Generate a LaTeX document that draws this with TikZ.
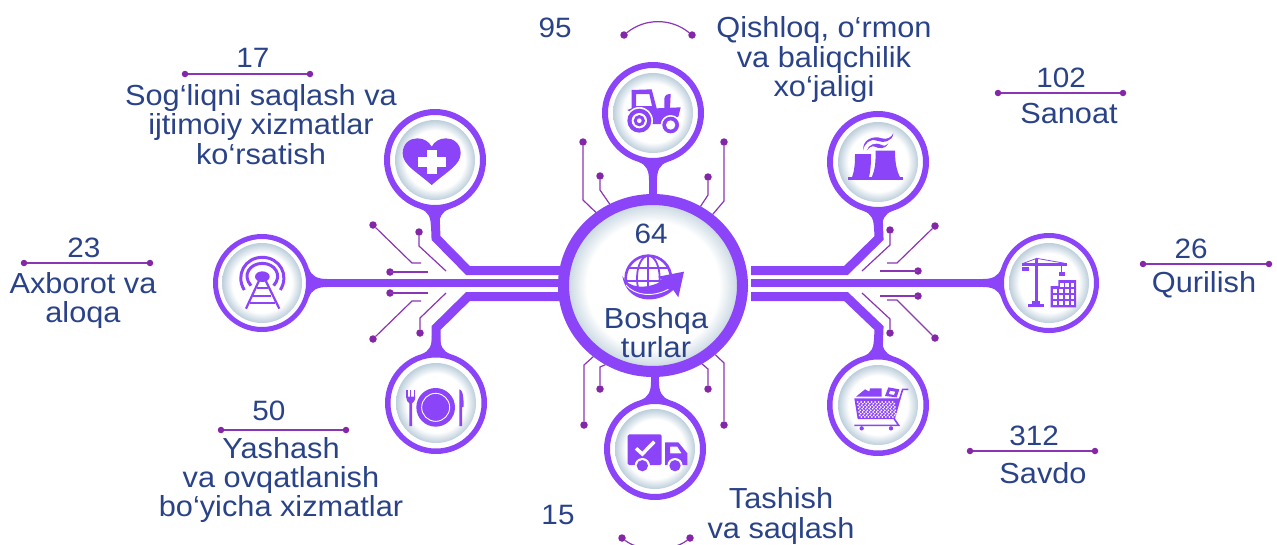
\documentclass[tikz,border=0pt]{standalone}
\usepackage{fontspec}
\setmainfont[FakeStretch=1.06]{Liberation Sans}
\usetikzlibrary{shapes.geometric}
\definecolor{ringcol}{HTML}{8B44F7}
\definecolor{tracecol}{HTML}{8A35B5}
\definecolor{dotcol}{HTML}{8426A8}
\definecolor{textcol}{HTML}{2A4388}
\pgfdeclareradialshading{discshade}{\pgfpointorigin}{rgb(0bp)=(1,1,1);rgb(18.5bp)=(1,1,1);rgb(25bp)=(0.74,0.81,0.86);rgb(50bp)=(0.74,0.81,0.86)}
\tikzset{
    ringnode/.style={circle, draw=ringcol, fill=white, inner sep=0pt},
    discnode/.style={circle, shading=discshade, minimum size=80pt, inner sep=0pt},
    bar/.style={draw=ringcol, line width=9pt, line join=miter},
    trace/.style={draw=tracecol, line width=1.2pt},
    dotnode/.style={circle, fill=dotcol, minimum size=7.5pt, inner sep=0pt},
    lbl/.style={text=textcol, font=\fontsize{29}{29.2}\selectfont, align=center, inner sep=0pt},
    num/.style={text=textcol, font=\fontsize{28}{30}\selectfont, inner sep=0pt},
    flare/.pic={\fill[ringcol] (-14,-2) .. controls (-7,1) and (-4,6) .. (-4,16) -- (4,16) .. controls (4,6) and (7,1) .. (14,-2) -- cycle;}
}
\begin{document}
\begin{tikzpicture}[x=1pt,y=-1pt]
    \useasboundingbox (0,0) rectangle (1277,544);
    % Rings and discs
    \foreach \nm/\cx/\cy/\rad/\lw in {tractor/653/113/51/6, heart/435/160/51/6, factory/878/162/51/6, antenna/262/283/49/5, crane/1049/283/50/5, plate/436/403/51/5.5, cart/878/405/51/5.5, truck/655/449/51/6}{
        \node[ringnode, minimum size=2*\rad-\lw, line width=\lw] (\nm) at (\cx,\cy) {};
        \node[discnode] (\nm disc) at (\cx,\cy) {};
    }
    \node[ellipse, draw=ringcol, line width=11pt, shading=discshade, minimum width=179pt, minimum height=172pt, inner sep=0pt] (hub) at (653,285.5) {};
    % Bars into the hub
    \coordinate (hubleft) at (560,283);
    \coordinate (hubright) at (751,283);
    \coordinate (hubtop) at (653,194);
    \coordinate (hubbottom) at (655,377);
    \draw[bar, line width=8.5pt] (antenna.east) -- (hubleft);
    \draw[bar, line width=8.5pt] (crane.west) -- (hubright);
    \draw[bar] (heart.south) -- (436,238) -- (468,270.5) -- (562,270.5);
    \draw[bar] (plate.north) -- (436,328) -- (468,296.5) -- (562,296.5);
    \draw[bar] (factory.south) -- (879,238) -- (846,270.5) -- (751,270.5);
    \draw[bar] (cart.north) -- (879,328) -- (846,296.5) -- (751,296.5);
    \draw[bar, line width=8pt] (tractor.south) -- (hubtop);
    \draw[bar, line width=8pt] (truck.north) -- (hubbottom);
    \pic at (tractor.south) {flare};
    \pic at (heart.south) {flare};
    \pic at (factory.south) {flare};
    \pic[rotate=180] at (truck.north) {flare};
    \pic[rotate=180] at (plate.north) {flare};
    \pic[rotate=180] at (cart.north) {flare};
    \pic[rotate=90] at (antenna.east) {flare};
    \pic[rotate=-90] at (crane.west) {flare};
    % Thin traces at the hub
    \foreach \nm/\dx/\dy/\by/\ang in {ta/583/142/200/128.5, tb/600/176/190/118.8, tc/708/177/195/59.6, td/724/142/201/50.2, ba/584/425/365/-130.3, bb/600/389/367/-121.8, bc/708/389/369/-58, bd/724/425/363/-48.9}{
        \node[dotnode] (\nm) at (\dx,\dy) {};
        \draw[trace] (\nm) -- (\dx,\by) -- (hub.\ang);
    }
    % Thin traces at the branches
    \foreach \nm/\dx/\dy/\bx/\by/\ex/\ey in {la/373/225/412/263/421/263, lb/419/232/419/246/446/271, lc/390/272/390/272/428/272, ld/390/293/390/293/428/293, le/373/339/412/301/421/301, lf/420/333/420/318/446/293, ra/935/226/897/263/887/263, rb/890/230/890/245/862/271, rc/918/271/918/271/880/271, rd/918/296/918/296/880/296, re/935/338/897/300/887/300, rf/890/333/890/319/862/293}{
        \node[dotnode] (\nm) at (\dx,\dy) {};
        \coordinate (\nm end) at (\ex,\ey);
        \draw[trace] (\nm) -- (\bx,\by) -- (\nm end);
    }
    % Tractor icon
    \begin{scope}[shift={(540,0)},scale=1/3]
        \fill[ringcol, even odd rule] (275,270) -- (335,268) -- (350,325) -- (422,322) -- (415,350) -- (395,358) -- (365,372) -- (335,372) -- (262,330) -- (275,325) -- cycle (288,282) -- (328,282) -- (336,318) -- (288,318) -- cycle;
        \fill[ringcol] (373,325) -- (373,295) .. controls (375,285) and (382,282) .. (392,282) -- (390,325) -- cycle;
        \fill[white] (298,362) circle (41);
        \fill[white] (392,375) circle (30);
        \fill[ringcol] (298,362) circle (36);
        \fill[white] (298,362) circle (23);
        \fill[ringcol] (298,362) circle (17);
        \fill[white] (298,362) circle (7);
        \fill[ringcol] (392,375) circle (25);
        \fill[white] (392,375) circle (14);
    \end{scope}
    % Heart icon
    \begin{scope}[shift={(360,100)},scale=1/3]
        \fill[ringcol] (215,255) .. controls (170,215) and (128,195) .. (128,160) .. controls (128,130) and (150,115) .. (172,115) .. controls (192,115) and (207,125) .. (215,140) .. controls (223,125) and (238,115) .. (258,115) .. controls (280,115) and (302,130) .. (302,160) .. controls (302,195) and (260,215) .. (215,255) -- cycle;
        \fill[white] (200,150) rectangle (230,222);
        \fill[white] (173,172) rectangle (258,200);
    \end{scope}
    % Antenna icon
    \begin{scope}[shift={(200,220)},scale=1/3]
        \fill[ringcol] (187,170) ellipse (22 and 16);
        \draw[ringcol, line width=3pt] (133,210) .. controls (105,165) and (135,112) .. (187,112) .. controls (239,112) and (269,165) .. (241,210);
        \draw[ringcol, line width=3pt] (153,197) .. controls (125,165) and (150,130) .. (187,130) .. controls (224,130) and (249,165) .. (221,197);
        \draw[ringcol, line width=2.2pt] (178,180) -- (138,266) (196,180) -- (238,266);
        \draw[ringcol, line width=2.2pt] (172,205) -- (203,205) (160,228) -- (214,228) (150,250) -- (226,250);
    \end{scope}
    % Plate icon
    \begin{scope}[shift={(200,220)},scale=1/3]
        \fill[ringcol] (707,562) circle (58);
        \draw[white, line width=0.9pt] (707,562) circle (42);
        \draw[ringcol, line width=1.4pt] (621,510) -- (621,535) (632,510) -- (632,535) (644,510) -- (644,535);
        \fill[ringcol] (619,530) -- (646,530) .. controls (646,542) and (640,548) .. (636,550) -- (636,618) -- (628,618) -- (628,550) .. controls (624,548) and (619,542) .. (619,530) -- cycle;
        \fill[ringcol] (778,508) .. controls (786,510) and (791,520) .. (791,560) -- (786,562) -- (786,618) -- (778,618) -- cycle;
    \end{scope}
    % Factory icon
    \begin{scope}[shift={(740,100)},scale=1/3]
        \fill[ringcol] (325,230) rectangle (490,240);
        \fill[ringcol] (345,162) -- (393,162) .. controls (393,190) and (392,210) .. (387,232) -- (336,232) .. controls (344,210) and (345,190) .. (345,162) -- cycle;
        \fill[ringcol] (407,152) -- (465,152) .. controls (465,190) and (470,210) .. (480,232) -- (395,232) .. controls (405,210) and (407,190) .. (407,152) -- cycle;
        \fill[ringcol] (370,152) .. controls (365,120) and (400,105) .. (425,115) .. controls (440,120) and (455,112) .. (460,100) .. controls (458,125) and (430,130) .. (410,122) .. controls (390,115) and (372,130) .. (370,152) -- cycle;
        \fill[ringcol] (380,152) .. controls (385,135) and (405,125) .. (425,135) .. controls (435,140) and (440,135) .. (445,130) .. controls (435,150) and (415,145) .. (405,140) .. controls (395,135) and (385,145) .. (380,152) -- cycle;
    \end{scope}
    % Crane icon
    \begin{scope}[shift={(740,100)},scale=1/3]
        \fill[ringcol] (885,478) rectangle (895,612);
        \fill[ringcol] (865,612) rectangle (912,622);
        \fill[ringcol] (876,604) rectangle (900,612);
        \fill[ringcol] (845,490) rectangle (980,497);
        \draw[ringcol, line width=0.8pt] (850,490) -- (890,475) -- (975,490);
        \fill[ringcol] (846,500) rectangle (866,513);
        \draw[ringcol, line width=0.8pt] (965,497) -- (965,515);
        \fill[ringcol] (957,515) rectangle (975,527);
        \fill[ringcol] (932,558) -- (955,558) -- (955,540) -- (1008,540) -- (1008,622) -- (932,622) -- cycle;
        \foreach \gx in {940,958,975,992}{
            \foreach \gy in {568,586,604}{
                \fill[white] (\gx,\gy) rectangle +(11,12);
            }
        }
        \foreach \gx in {960,975,992}{
            \fill[white] (\gx,549) rectangle +(11,12);
        }
    \end{scope}
    % Cart icon
    \begin{scope}[shift={(560,350)},scale=1/3]
        \fill[ringcol] (888,140) -- (915,118) -- (928,125) -- (930,115) -- (965,115) -- (965,140) -- cycle;
        \fill[ringcol, even odd rule] (985,112) -- (1018,118) -- (1010,142) -- (975,138) -- cycle (990,122) -- (1006,125) -- (1002,135) -- (986,132) -- cycle;
        \fill[ringcol] (883,145) -- (1022,145) -- (1005,207) -- (893,207) -- cycle;
        \foreach \row in {0,1,2,3,4}{
            \foreach \col in {0,...,10}{
                \fill[white] (893+\col*10.5+\row*1.5,156+\row*10) circle (2.8);
                \fill[white] (898+\col*10.5+\row*1.5,161+\row*10) circle (2.8);
            }
        }
        \draw[ringcol, line width=1.6pt] (1018,150) -- (1028,118) -- (1045,118);
        \draw[ringcol, line width=1.6pt] (1003,207) -- (1016,226) -- (883,226);
        \fill[ringcol] (905,235) circle (6.5);
        \fill[ringcol] (993,235) circle (6.5);
    \end{scope}
    % Truck icon
    \begin{scope}[shift={(560,350)},scale=1/3]
        \fill[ringcol, rounded corners=1.5pt] (203,253) rectangle (305,345);
        \fill[ringcol, even odd rule] (315,277) -- (355,277) -- (382,310) -- (382,345) -- (315,345) -- cycle (330,290) -- (352,290) -- (365,310) -- (330,310) -- cycle;
        \draw[white, line width=3.5pt] (228,295) -- (247,312) -- (283,275);
        \fill[white] (247,347) circle (23);
        \fill[white] (345,347) circle (23);
        \fill[ringcol] (247,347) circle (17);
        \fill[ringcol] (345,347) circle (17);
    \end{scope}
    % Globe icon
    \begin{scope}[shift={(540,190)},scale=1/3]
        \draw[ringcol, line width=2.6pt] (325,265) circle (68);
        \draw[ringcol, line width=1.8pt] (325,265) ellipse (34 and 68);
        \draw[ringcol, line width=1.8pt] (325,197) -- (325,333) (262,235) -- (388,235) (258,272) -- (392,272);
        \fill[white] (240,268) .. controls (262,305) and (320,310) .. (368,280) -- (440,240) -- (440,350) -- (240,350) -- cycle;
        \fill[ringcol] (247,258) .. controls (262,295) and (320,300) .. (368,272) -- (355,260) -- (432,245) -- (415,322) -- (400,300) .. controls (350,345) and (260,340) .. (247,258) -- cycle;
        \draw[white, line width=0.9pt] (258,285) .. controls (285,318) and (340,322) .. (385,298);
    \end{scope}
    % Annotation rules
    \node[dotnode] (tracl) at (624,35) {};
    \node[dotnode] (tracr) at (692,35) {};
    \draw[trace] (tracl) .. controls (645,18) and (671,18) .. (tracr);
    \node[dotnode] (trul) at (622,538) {};
    \node[dotnode] (trur) at (690,538) {};
    \draw[trace] (trul) .. controls (640,552) and (672,552) .. (trur);
    \foreach \nm/\xa/\xb/\yy in {heal/185/310/74, sano/998/1123/93, quri/1143/1269/264, axbo/24/150/263, yash/221/346/430, savd/970/1095/451}{
        \node[dotnode, minimum size=6.5pt] (\nm l) at (\xa,\yy) {};
        \node[dotnode, minimum size=6.5pt] (\nm r) at (\xb,\yy) {};
        \draw[trace] (\nm l) -- (\nm r);
    }
    % Labels
    \node[num] (n95) at (555,27.5) {95};
    \node[lbl] (tqish) at (824,59.5) {Qishloq, o‘rmon\\va baliqchilik\\xo‘jaligi};
    \node[num] (n17) at (253,57.5) {17};
    \node[lbl] (tsog) at (261,124.5) {Sog‘liqni saqlash va\\ijtimoiy xizmatlar\\ko‘rsatish};
    \node[num] (n102) at (1061,77.5) {102};
    \node[lbl] (tsan) at (1069,114) {Sanoat};
    \node[num] (n26) at (1191,248.5) {26};
    \node[lbl] (tqur) at (1204,285) {Qurilish};
    \node[num] (n23) at (84,247.5) {23};
    \node[lbl] (taxb) at (83,300.5) {Axborot va\\aloqa};
    \node[num] (n50) at (269,410.5) {50};
    \node[lbl] (tyas) at (281,480) {Yashash\\va ovqatlanish\\bo‘yicha xizmatlar};
    \node[num] (n312) at (1034,435.5) {312};
    \node[lbl] (tsav) at (1043,473) {Savdo};
    \node[num] (n15) at (558,514.5) {15};
    \node[lbl] (ttas) at (781,516) {Tashish\\va saqlash};
    \node[num] (n64) at (651,233.5) {64};
    \node[lbl] (tbos) at (656,333) {Boshqa\\turlar};
\end{tikzpicture}
\end{document}
